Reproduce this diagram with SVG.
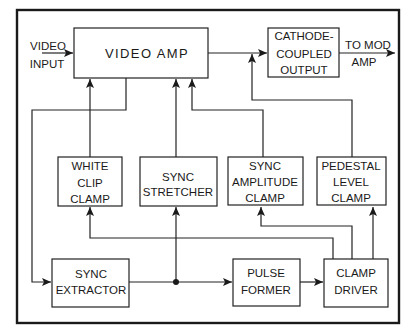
<svg xmlns="http://www.w3.org/2000/svg" width="403" height="325" viewBox="0 0 403 325">
<style>
.box{fill:#fff;stroke:#222;stroke-width:1.2}
.ln{fill:none;stroke:#222;stroke-width:1.2}
text{font-family:"Liberation Sans","DejaVu Sans",sans-serif;font-size:11.5px;fill:#1a1a1a;text-anchor:middle}
.big{font-size:13px;letter-spacing:1.4px}
</style>
<defs>
<marker id="ah" markerUnits="userSpaceOnUse" markerWidth="10" markerHeight="8" refX="9" refY="4" orient="auto">
<path d="M0,0 L9,4 L0,8 L2,4 Z" fill="#1a1a1a"/>
</marker>
</defs>
<rect x="0" y="0" width="403" height="325" fill="#fff"/>
<rect x="17" y="10" width="382" height="313" fill="none" stroke="#1a1a1a" stroke-width="2.4"/>

<g id="connectors">
<path class="ln" d="M42,53 H73" marker-end="url(#ah)"/>
<path class="ln" d="M208,53 H267" marker-end="url(#ah)"/>
<path class="ln" d="M339,53 H395" marker-end="url(#ah)"/>
<path class="ln" d="M352,157 V100 H252 V54" marker-end="url(#ah)"/>
<path class="ln" d="M90,157 V79" marker-end="url(#ah)"/>
<path class="ln" d="M176,157 V79" marker-end="url(#ah)"/>
<path class="ln" d="M263,157 V110 H192 V79" marker-end="url(#ah)"/>
<path class="ln" d="M126,78 V110 H32 V282 H51" marker-end="url(#ah)"/>
<path class="ln" d="M129,282 H232" marker-end="url(#ah)"/>
<path class="ln" d="M176,282 V207" marker-end="url(#ah)"/>
<circle cx="176" cy="282" r="3" fill="#1a1a1a"/>
<path class="ln" d="M300,282 H323" marker-end="url(#ah)"/>
<path class="ln" d="M333,259 V238 H90 V207" marker-end="url(#ah)"/>
<path class="ln" d="M352,259 V226 H261 V207" marker-end="url(#ah)"/>
<path class="ln" d="M373,259 V207" marker-end="url(#ah)"/>
</g>

<g id="video-input-label">
<text x="48" y="50">VIDEO</text>
<text x="47" y="68">INPUT</text>
</g>
<g id="to-mod-amp-label">
<text x="368" y="49">TO MOD</text>
<text x="364" y="66">AMP</text>
</g>

<g id="video-amp">
<rect class="box" x="74" y="28" width="134" height="50"/>
<text class="big" x="147" y="58">VIDEO AMP</text>
</g>
<g id="cathode-coupled-output">
<rect class="box" x="268" y="28" width="71" height="49"/>
<text x="304" y="40">CATHODE-</text>
<text x="304" y="58">COUPLED</text>
<text x="304" y="74">OUTPUT</text>
</g>
<g id="white-clip-clamp">
<rect class="box" x="58" y="157" width="64" height="49"/>
<text x="90" y="170">WHITE</text>
<text x="90" y="187">CLIP</text>
<text x="90" y="203">CLAMP</text>
</g>
<g id="sync-stretcher">
<rect class="box" x="140" y="157" width="77" height="49"/>
<text x="178" y="181">SYNC</text>
<text x="178" y="196">STRETCHER</text>
</g>
<g id="sync-amplitude-clamp">
<rect class="box" x="228" y="157" width="75" height="48"/>
<text x="265" y="170">SYNC</text>
<text x="265" y="186">AMPLITUDE</text>
<text x="265" y="202">CLAMP</text>
</g>
<g id="pedestal-level-clamp">
<rect class="box" x="317" y="157" width="69" height="48"/>
<text x="351" y="170">PEDESTAL</text>
<text x="351" y="186">LEVEL</text>
<text x="351" y="202">CLAMP</text>
</g>
<g id="sync-extractor">
<rect class="box" x="52" y="259" width="77" height="48"/>
<text x="91" y="278">SYNC</text>
<text x="91" y="294">EXTRACTOR</text>
</g>
<g id="pulse-former">
<rect class="box" x="233" y="259" width="67" height="47"/>
<text x="266" y="277">PULSE</text>
<text x="266" y="294">FORMER</text>
</g>
<g id="clamp-driver">
<rect class="box" x="324" y="259" width="64" height="48"/>
<text x="356" y="277">CLAMP</text>
<text x="356" y="294">DRIVER</text>
</g>
</svg>
